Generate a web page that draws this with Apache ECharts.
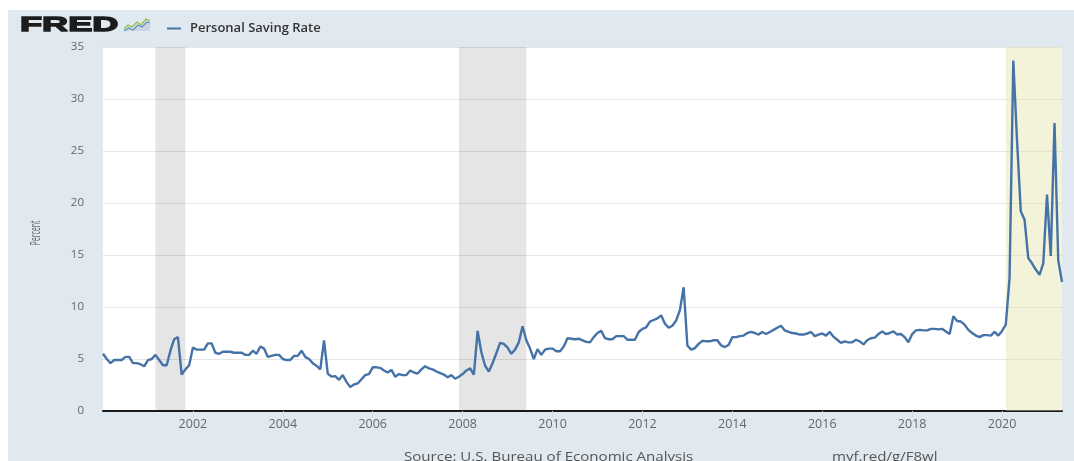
<!DOCTYPE html>
<html>
<head>
<meta charset="utf-8">
<script src="https://cdn.jsdelivr.net/npm/echarts@6/dist/echarts.min.js"></script>
<style>
  html, body { margin: 0; padding: 0; background: #ffffff; }
  #bg { position: absolute; left: 8px; top: 10px; width: 1066px; height: 451px; background: #e1e9f0; }
  #chart { position: absolute; left: 0; top: 0; width: 1074px; height: 461px; }
</style>
</head>
<body>
<div id="bg"></div>
<div id="chart"></div>
<script>
// Personal Saving Rate, percent, monthly
const psr2000 = [5.5, 5.0, 4.6, 4.9, 4.9, 4.9, 5.2, 5.2, 4.6, 4.6, 4.5, 4.3];
const psr2001 = [4.9, 5.0, 5.4, 4.9, 4.4, 4.4, 5.8, 6.9, 7.1, 3.5, 4.0, 4.4];
const psr2002 = [6.1, 5.9, 5.9, 5.9, 6.5, 6.5, 5.6, 5.5, 5.7, 5.7, 5.7, 5.6];
const psr2003 = [5.6, 5.6, 5.4, 5.4, 5.8, 5.5, 6.2, 6.0, 5.2, 5.3, 5.4, 5.4];
const psr2004 = [5.0, 4.9, 4.9, 5.3, 5.3, 5.8, 5.2, 5.0, 4.6, 4.35, 4.0, 6.8];
const psr2005 = [3.6, 3.3, 3.35, 3.0, 3.45, 2.8, 2.3, 2.55, 2.65, 3.05, 3.45, 3.55];
const psr2006 = [4.2, 4.2, 4.15, 3.9, 3.7, 3.95, 3.3, 3.55, 3.45, 3.45, 3.9, 3.7];
const psr2007 = [3.6, 4.0, 4.3, 4.1, 4.0, 3.8, 3.65, 3.5, 3.25, 3.45, 3.1, 3.3];
const psr2008 = [3.55, 3.9, 4.1, 3.5, 7.7, 5.65, 4.35, 3.8, 4.6, 5.55, 6.55, 6.45];
const psr2009 = [6.1, 5.5, 5.9, 6.6, 8.15, 6.8, 6.0, 5.0, 5.95, 5.4, 5.9, 6.0];
const psr2010 = [6.0, 5.75, 5.75, 6.2, 7.0, 6.95, 6.9, 6.95, 6.8, 6.65, 6.6, 7.1];
const psr2011 = [7.5, 7.7, 7.0, 6.9, 6.9, 7.2, 7.2, 7.2, 6.85, 6.85, 6.85, 7.6];
const psr2012 = [7.9, 8.05, 8.6, 8.75, 8.9, 9.2, 8.4, 8.0, 8.2, 8.7, 9.7, 11.9];
const psr2013 = [6.3, 5.9, 6.05, 6.45, 6.75, 6.7, 6.7, 6.8, 6.8, 6.3, 6.15, 6.35];
const psr2014 = [7.1, 7.1, 7.2, 7.25, 7.5, 7.6, 7.5, 7.35, 7.6, 7.4, 7.6, 7.8];
const psr2015 = [8.0, 8.2, 7.75, 7.6, 7.5, 7.45, 7.35, 7.35, 7.45, 7.6, 7.2, 7.35];
const psr2016 = [7.45, 7.25, 7.6, 7.15, 6.85, 6.55, 6.7, 6.6, 6.6, 6.85, 6.7, 6.4];
const psr2017 = [6.8, 7.0, 7.05, 7.4, 7.65, 7.4, 7.5, 7.65, 7.35, 7.4, 7.1, 6.6];
const psr2018 = [7.4, 7.75, 7.8, 7.75, 7.75, 7.9, 7.9, 7.85, 7.9, 7.65, 7.4, 9.1];
const psr2019 = [8.65, 8.6, 8.3, 7.8, 7.5, 7.25, 7.1, 7.3, 7.3, 7.25, 7.6, 7.25];
const psr2020 = [7.7, 8.3, 12.8, 33.7, 26.0, 19.2, 18.4, 14.7, 14.2, 13.6, 13.1, 14.2];
const psr2021 = [20.8, 14.9, 27.7, 14.5, 12.4];

const yearlyValues = [psr2000, psr2001, psr2002, psr2003, psr2004, psr2005, psr2006,
  psr2007, psr2008, psr2009, psr2010, psr2011, psr2012, psr2013, psr2014, psr2015,
  psr2016, psr2017, psr2018, psr2019, psr2020, psr2021];
const firstYear = 2000;

// Recessions (grey) and the 2020 shaded period (yellow)
const recessions = [['2001-03', '2001-11'], ['2007-12', '2009-06']];
const recent = ['2020-02', '2021-05'];

const yTicks = { min: 0, max: 35, step: 5 };
const seriesName = 'Personal Saving Rate';
const yLabel = 'Percent';
const sourceText = 'Source: U.S. Bureau of Economic Analysis';
const linkText = 'myf.red/g/F8wl';

// categories: one per month
const months = [];
const values = [];
yearlyValues.forEach(function (arr, yi) {
  arr.forEach(function (v, mi) {
    months.push((firstYear + yi) + '-' + String(mi + 1).padStart(2, '0'));
    values.push(v);
  });
});

function isLabelMonth(idx, val) {
  const y = +val.slice(0, 4);
  return val.slice(5) === '01' && y % 2 === 0 && y > firstYear;
}

const FONT = '"Open Sans", "Noto Sans", sans-serif';
const chart = echarts.init(document.getElementById('chart'), null, { renderer: 'canvas' });
chart.setOption({
  backgroundColor: 'transparent',
  animation: false,
  grid: { left: 103, right: 12, top: 47, bottom: 50, show: true, backgroundColor: '#ffffff', borderWidth: 0 },
  legend: {
    left: 162, top: 17,
    icon: 'rect', itemWidth: 14, itemHeight: 2,
    textStyle: { fontFamily: FONT, fontSize: 13, fontWeight: 600, color: '#333333', padding: [0, 0, 0, 4] },
    data: [seriesName]
  },
  xAxis: {
    type: 'category',
    data: months,
    boundaryGap: false,
    axisLine: { show: true, lineStyle: { color: '#1a1a1a', width: 2 } },
    axisTick: { show: true, interval: isLabelMonth, length: 6, lineStyle: { color: '#ccd6eb', width: 1 } },
    axisLabel: {
      interval: isLabelMonth, formatter: function (v) { return v.slice(0, 4); },
      color: '#666666', fontFamily: FONT, fontSize: 12.5, margin: 7
    },
    splitLine: { show: false }
  },
  yAxis: {
    type: 'value',
    min: yTicks.min, max: yTicks.max, interval: yTicks.step,
    axisLine: { show: false }, axisTick: { show: false },
    axisLabel: { color: '#666666', fontFamily: FONT, fontSize: 11.5, margin: 19 },
    splitLine: { show: true, lineStyle: { color: '#e6e6e6', width: 1 } }
  },
  series: [{
    name: seriesName,
    type: 'line',
    data: values,
    showSymbol: false, symbol: 'none',
    color: '#4572a7',
    lineStyle: { color: '#4572a7', width: 2.4 },
    markArea: {
      silent: true,
      data: recessions.map(function (r) {
        return [{ xAxis: r[0], itemStyle: { color: 'rgba(0,0,0,0.1)' } }, { xAxis: r[1] }];
      }).concat([[{ xAxis: recent[0], itemStyle: { color: 'rgba(225,225,160,0.4)' } }, { xAxis: recent[1] }]])
    },
    z: 3
  }],
  graphic: [
    { type: 'text', x: 20, y: 25.5, scaleX: 1.72, style: { text: 'FRED', font: 'bold 21px "Liberation Sans", Arial, sans-serif', fill: '#1c1c1c', stroke: '#1c1c1c', lineWidth: 1.3, verticalAlign: 'middle', align: 'left' } },
    { type: 'polygon', shape: { points: [[124, 31], [128, 26], [132, 29], [137, 24], [141, 27], [146, 21], [150, 24], [150, 31]] }, style: { fill: '#cdd6df' } },
    { type: 'polyline', shape: { points: [[124, 29], [128, 25], [132, 27], [137, 22], [141, 25], [146, 19], [150, 21]] }, style: { stroke: '#8cbf3f', lineWidth: 1.2, fill: null } },
    { type: 'polyline', shape: { points: [[124, 31], [129, 28], [133, 30], [138, 25], [142, 27], [147, 22], [150, 23]] }, style: { stroke: '#5b8fc7', lineWidth: 1.2, fill: null } },
    { type: 'text', x: 36, y: 233, rotation: Math.PI / 2, scaleX: 0.58, scaleY: 1.25, style: { text: yLabel, font: '12px ' + FONT, fill: '#666666', align: 'center', verticalAlign: 'middle' } },
    { type: 'text', x: 404, y: 451, scaleX: 1.16, style: { text: sourceText, font: '13px ' + FONT, fill: '#555555', align: 'left', verticalAlign: 'top' } },
    { type: 'text', x: 832, y: 451, scaleX: 1.16, style: { text: linkText, font: '13px ' + FONT, fill: '#555555', align: 'left', verticalAlign: 'top' } }
  ]
});
</script>
</body>
</html>
